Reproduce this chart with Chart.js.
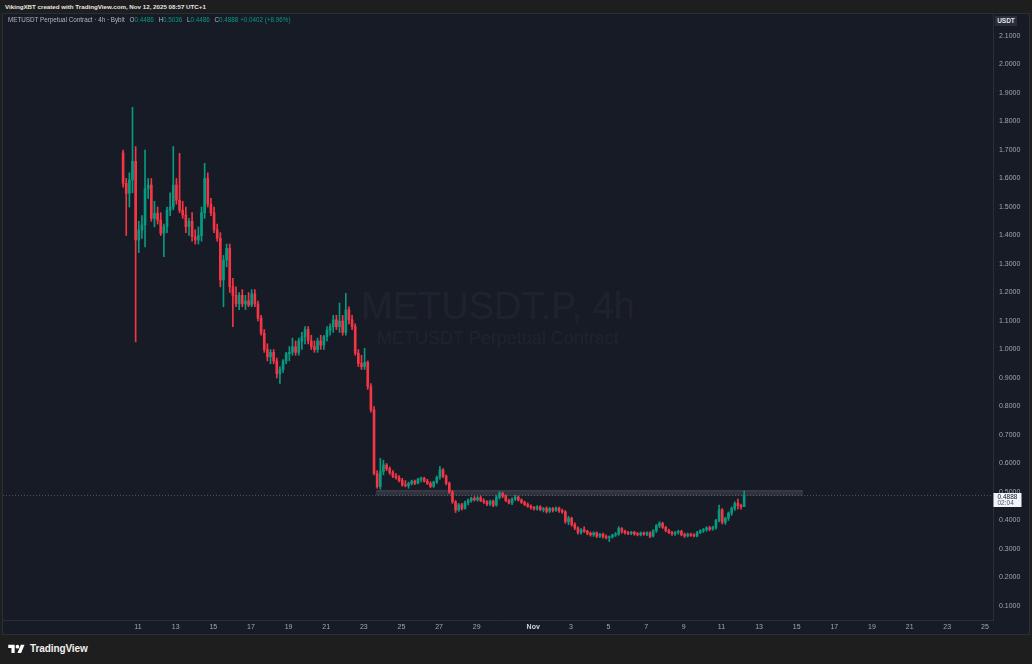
<!DOCTYPE html>
<html>
<head>
<meta charset="utf-8">
<script src="https://cdn.jsdelivr.net/npm/chart.js@4.4.1/dist/chart.umd.min.js"></script>
<style>
  html, body { margin: 0; padding: 0; }
  body { width: 1032px; height: 664px; background: #1e1e1e; position: relative; overflow: hidden;
         font-family: "Liberation Sans", Arial, sans-serif; }
  #header { position: absolute; left: 5px; top: 3px; font-size: 6.2px; font-weight: 700; color: #e6e6e6; white-space: nowrap; }
  #panel { position: absolute; left: 3px; top: 14px; width: 1026px; height: 620px; background: #171b26;
           box-shadow: 0 0 0 1px #2a2e39; }
  #chart { position: absolute; left: 0; top: 0; }
  .wm { position: absolute; left: 0; width: 990px; text-align: center; color: rgba(255,255,255,0.055); white-space: nowrap; }
  #wm1 { top: 270px; font-size: 38px; line-height: 44px; }
  #wm2 { top: 314px; font-size: 18px; line-height: 20px; }
  #legend { position: absolute; left: 5px; top: 2px; font-size: 6.3px; color: #b2b5be; white-space: nowrap; }
  #legend .v { color: #089981; }
  #legend .k { margin-left: 3px; }
  #usdt { position: absolute; left: 992px; top: 2px; width: 22px; height: 10px; background: #2a2e39; color: #e0e3eb;
          font-size: 6.5px; font-weight: 700; text-align: center; line-height: 10px; }
  #footer { position: absolute; left: 6px; top: 640px; height: 16px; display: flex; align-items: center; }
  #footer span { color: #f0f0f0; font-weight: 700; font-size: 10px; margin-left: 3px; letter-spacing: -0.1px; }
</style>
</head>
<body>
<div id="header">VikingXBT created with TradingView.com, Nov 12, 2025 08:57 UTC+1</div>
<div id="panel">
  <div class="wm" id="wm1">METUSDT.P, 4h</div>
  <div class="wm" id="wm2">METUSDT Perpetual Contract</div>
  <canvas id="chart" width="1026" height="620"></canvas>
  <div id="legend">METUSDT Perpetual Contract · 4h · Bybit
    <span class="k">O</span><span class="v">0.4486</span>
    <span class="k">H</span><span class="v">0.5036</span>
    <span class="k">L</span><span class="v">0.4486</span>
    <span class="k">C</span><span class="v">0.4888</span>
    <span class="v">+0.0402 (+8.96%)</span></div>
  <div id="usdt">USDT</div>
</div>
<div id="footer">
  <svg width="21" height="11" viewBox="0 0 36 24"><path d="M14 22H7V11H0V4h14v18z" fill="#fff"/><circle cx="20" cy="8" r="4" fill="#fff"/><path d="M28 22h-8l7.5-18h8L28 22z" fill="#fff"/></svg>
  <span>TradingView</span>
</div>
<script>
// 4h candles, first bar Oct 10 05:00; x values are days counted from Oct 1 00:00
const firstBarDay = 9 + 5 / 24;
const barStep = 1 / 6;

const opens = [
  1.69, 1.583, 1.548, 1.595, 1.66, 1.384, 1.419, 1.437, 1.565, 1.577,
  1.46, 1.478, 1.454, 1.408, 1.431, 1.489, 1.50, 1.577, 1.524, 1.489,
  1.472, 1.431, 1.45, 1.396, 1.384, 1.40, 1.48, 1.60, 1.51, 1.48,
  1.42, 1.39, 1.244, 1.314, 1.355, 1.22, 1.19, 1.16, 1.19, 1.16,
  1.17, 1.156, 1.195, 1.16, 1.11, 1.057, 1.0, 0.975, 0.99, 0.96,
  0.915, 0.93, 0.96, 0.985, 0.99, 1.01, 0.99, 1.03, 1.045, 1.07,
  1.03, 1.01, 1.0, 1.03, 1.015, 1.045, 1.068, 1.08, 1.104, 1.08,
  1.10, 1.06, 1.139, 1.104, 1.08, 0.987, 0.951, 0.94, 0.955, 0.87,
  0.788, 0.565, 0.519, 0.572, 0.595, 0.582, 0.568, 0.556, 0.55, 0.54,
  0.525, 0.522, 0.53, 0.538, 0.531, 0.545, 0.548, 0.538, 0.53, 0.52,
  0.535, 0.552, 0.578, 0.556, 0.53, 0.50, 0.465, 0.437, 0.455, 0.442,
  0.462, 0.47, 0.478, 0.473, 0.48, 0.47, 0.465, 0.458, 0.468, 0.454,
  0.482, 0.495, 0.486, 0.47, 0.462, 0.475, 0.482, 0.472, 0.464, 0.457,
  0.45, 0.446, 0.441, 0.448, 0.438, 0.442, 0.432, 0.442, 0.436, 0.443,
  0.434, 0.43, 0.396, 0.408, 0.386, 0.374, 0.358, 0.368, 0.362, 0.355,
  0.35, 0.357, 0.345, 0.352, 0.344, 0.34, 0.343, 0.349, 0.352, 0.372,
  0.362, 0.357, 0.354, 0.359, 0.353, 0.35, 0.356, 0.352, 0.357, 0.345,
  0.364, 0.382, 0.39, 0.376, 0.365, 0.358, 0.353, 0.358, 0.362, 0.35,
  0.346, 0.352, 0.348, 0.346, 0.358, 0.364, 0.368, 0.374, 0.37, 0.376,
  0.40, 0.437, 0.394, 0.408, 0.426, 0.442, 0.46, 0.452, 0.4486
];
const highs = [
  1.70, 1.60, 1.62, 1.85, 1.712, 1.45, 1.47, 1.70, 1.60, 1.60,
  1.52, 1.50, 1.48, 1.44, 1.50, 1.55, 1.712, 1.60, 1.688, 1.52,
  1.50, 1.46, 1.48, 1.42, 1.43, 1.50, 1.653, 1.62, 1.53, 1.50,
  1.44, 1.41, 1.33, 1.37, 1.37, 1.25, 1.22, 1.20, 1.21, 1.19,
  1.20, 1.21, 1.21, 1.17, 1.12, 1.07, 1.02, 1.0, 1.0, 0.97,
  0.94, 0.965, 0.99, 1.01, 1.04, 1.03, 1.04, 1.06, 1.08, 1.08,
  1.05, 1.03, 1.04, 1.05, 1.05, 1.08, 1.09, 1.12, 1.12, 1.163,
  1.12, 1.197, 1.15, 1.12, 1.09, 1.0, 0.98, 1.004, 0.96, 0.88,
  0.80, 0.575, 0.618, 0.612, 0.60, 0.588, 0.575, 0.565, 0.558, 0.548,
  0.54, 0.535, 0.542, 0.542, 0.548, 0.552, 0.552, 0.545, 0.536, 0.538,
  0.556, 0.59, 0.582, 0.56, 0.535, 0.505, 0.47, 0.46, 0.46, 0.468,
  0.475, 0.482, 0.484, 0.484, 0.486, 0.476, 0.47, 0.472, 0.472, 0.488,
  0.502, 0.50, 0.49, 0.475, 0.48, 0.488, 0.486, 0.476, 0.468, 0.462,
  0.455, 0.45, 0.452, 0.452, 0.446, 0.448, 0.446, 0.446, 0.448, 0.447,
  0.44, 0.435, 0.415, 0.412, 0.392, 0.378, 0.372, 0.378, 0.366, 0.36,
  0.36, 0.36, 0.355, 0.356, 0.35, 0.346, 0.352, 0.358, 0.378, 0.375,
  0.366, 0.362, 0.362, 0.362, 0.358, 0.36, 0.36, 0.36, 0.36, 0.368,
  0.386, 0.396, 0.394, 0.38, 0.37, 0.362, 0.362, 0.366, 0.366, 0.356,
  0.356, 0.356, 0.354, 0.362, 0.368, 0.372, 0.378, 0.38, 0.38, 0.404,
  0.454, 0.442, 0.412, 0.43, 0.448, 0.466, 0.475, 0.458, 0.5036
];
const lows = [
  1.57, 1.40, 1.50, 1.55, 1.027, 1.34, 1.39, 1.36, 1.53, 1.45,
  1.43, 1.44, 1.40, 1.326, 1.41, 1.47, 1.49, 1.51, 1.48, 1.46,
  1.41, 1.40, 1.38, 1.37, 1.37, 1.38, 1.46, 1.50, 1.47, 1.41,
  1.38, 1.22, 1.15, 1.29, 1.20, 1.08, 1.15, 1.14, 1.15, 1.14,
  1.15, 1.15, 1.15, 1.10, 1.05, 0.99, 0.96, 0.95, 0.95, 0.90,
  0.881, 0.92, 0.95, 0.96, 0.98, 0.98, 0.98, 1.0, 1.02, 1.02,
  1.0, 0.99, 0.99, 1.0, 1.0, 1.03, 1.05, 1.06, 1.07, 1.06,
  1.05, 1.05, 1.09, 1.07, 0.98, 0.94, 0.93, 0.93, 0.86, 0.78,
  0.56, 0.513, 0.51, 0.56, 0.575, 0.562, 0.55, 0.545, 0.535, 0.52,
  0.518, 0.513, 0.525, 0.526, 0.528, 0.535, 0.535, 0.526, 0.515, 0.516,
  0.53, 0.545, 0.55, 0.525, 0.495, 0.46, 0.428, 0.432, 0.436, 0.44,
  0.455, 0.464, 0.468, 0.468, 0.466, 0.46, 0.452, 0.452, 0.448, 0.45,
  0.475, 0.48, 0.466, 0.458, 0.456, 0.47, 0.468, 0.46, 0.452, 0.446,
  0.44, 0.436, 0.436, 0.434, 0.43, 0.426, 0.428, 0.43, 0.432, 0.428,
  0.425, 0.39, 0.385, 0.38, 0.368, 0.352, 0.352, 0.358, 0.35, 0.345,
  0.344, 0.34, 0.34, 0.338, 0.335, 0.326, 0.338, 0.344, 0.348, 0.356,
  0.352, 0.35, 0.35, 0.348, 0.346, 0.346, 0.348, 0.347, 0.34, 0.342,
  0.358, 0.375, 0.372, 0.36, 0.354, 0.348, 0.348, 0.352, 0.346, 0.34,
  0.342, 0.344, 0.342, 0.342, 0.354, 0.358, 0.362, 0.364, 0.366, 0.37,
  0.395, 0.388, 0.386, 0.40, 0.418, 0.435, 0.44, 0.44, 0.4486
];
const closes = [
  1.583, 1.548, 1.595, 1.66, 1.384, 1.419, 1.437, 1.565, 1.577, 1.46,
  1.478, 1.454, 1.408, 1.431, 1.489, 1.50, 1.577, 1.524, 1.489, 1.472,
  1.431, 1.45, 1.396, 1.384, 1.40, 1.48, 1.60, 1.51, 1.48, 1.42,
  1.39, 1.244, 1.314, 1.355, 1.22, 1.19, 1.16, 1.19, 1.16, 1.17,
  1.156, 1.195, 1.16, 1.11, 1.057, 1.0, 0.975, 0.99, 0.96, 0.915,
  0.93, 0.96, 0.985, 0.99, 1.01, 0.99, 1.03, 1.045, 1.07, 1.03,
  1.01, 1.0, 1.03, 1.015, 1.045, 1.068, 1.08, 1.104, 1.08, 1.10,
  1.06, 1.139, 1.104, 1.08, 0.987, 0.951, 0.94, 0.955, 0.87, 0.788,
  0.565, 0.519, 0.572, 0.595, 0.582, 0.568, 0.556, 0.55, 0.54, 0.525,
  0.522, 0.53, 0.538, 0.531, 0.545, 0.548, 0.538, 0.53, 0.52, 0.535,
  0.552, 0.578, 0.556, 0.53, 0.50, 0.465, 0.437, 0.455, 0.442, 0.462,
  0.47, 0.478, 0.473, 0.48, 0.47, 0.465, 0.458, 0.468, 0.454, 0.482,
  0.495, 0.486, 0.47, 0.462, 0.475, 0.482, 0.472, 0.464, 0.457, 0.45,
  0.446, 0.441, 0.448, 0.438, 0.442, 0.432, 0.442, 0.436, 0.443, 0.434,
  0.43, 0.396, 0.408, 0.386, 0.374, 0.358, 0.368, 0.362, 0.355, 0.35,
  0.357, 0.345, 0.352, 0.344, 0.34, 0.343, 0.349, 0.352, 0.372, 0.362,
  0.357, 0.354, 0.359, 0.353, 0.35, 0.356, 0.352, 0.357, 0.345, 0.364,
  0.382, 0.39, 0.376, 0.365, 0.358, 0.353, 0.358, 0.362, 0.35, 0.346,
  0.352, 0.348, 0.346, 0.358, 0.364, 0.368, 0.374, 0.37, 0.376, 0.40,
  0.437, 0.394, 0.408, 0.426, 0.442, 0.46, 0.452, 0.4486, 0.4888
];

// axis ticks
const xTickDays = [10, 12, 14, 16, 18, 20, 22, 24, 26, 28, 31, 33, 35, 37, 39, 41, 43, 45, 47, 49, 51, 53, 55];
const xTickLabels = ['11', '13', '15', '17', '19', '21', '23', '25', '27', '29', 'Nov', '3', '5', '7', '9', '11', '13', '15', '17', '19', '21', '23', '25'];
const yTicks = [0.1, 0.2, 0.3, 0.4, 0.5, 0.6, 0.7, 0.8, 0.9, 1.0, 1.1, 1.2, 1.3, 1.4, 1.5, 1.6, 1.7, 1.8, 1.9, 2.0, 2.1];

// the drawn grey zone (from / to day, low / high price) and the live price
const zoneDays = [22.65, 45.33];
const zonePrices = [0.487, 0.506];
const lastPrice = 0.4888;
const countdown = '02:04';

const UP = '#089981';
const DOWN = '#f23645';
const candleColors = closes.map((c, i) => c >= opens[i] ? UP : DOWN);
const barX = closes.map((c, i) => firstBarDay + i * barStep);

// no label padding around the plot, so the scales fill the panel exactly
function noPadding(s) {
  s.paddingTop = 0;
  s.paddingBottom = 0;
  s.paddingLeft = 0;
  s.paddingRight = 0;
}

const overlayPlugin = {
  id: 'overlay',
  beforeDatasetsDraw(chart) {
    const { ctx, chartArea, scales: { x, y } } = chart;
    const x0 = x.getPixelForValue(zoneDays[0]);
    const x1 = x.getPixelForValue(zoneDays[1]);
    const y0 = y.getPixelForValue(zonePrices[1]);
    const y1 = y.getPixelForValue(zonePrices[0]);
    ctx.save();
    ctx.fillStyle = 'rgba(178,181,190,0.16)';
    ctx.fillRect(x0, y0, x1 - x0, y1 - y0);
    ctx.fillStyle = 'rgba(178,181,190,0.18)';
    ctx.fillRect(x0, y0, x1 - x0, 1);

    // last price line
    const py = Math.round(y.getPixelForValue(lastPrice)) + 0.5;
    ctx.strokeStyle = 'rgba(178,181,190,0.35)';
    ctx.lineWidth = 1;
    ctx.setLineDash([1, 2]);
    ctx.beginPath();
    ctx.moveTo(chartArea.left, py);
    ctx.lineTo(chartArea.right, py);
    ctx.stroke();
    ctx.restore();
  },
  afterDraw(chart) {
    const { ctx, chartArea, scales: { y } } = chart;
    const py = y.getPixelForValue(lastPrice);
    const bx = chartArea.right + 0.5;
    const by = Math.round(py) - 2;
    ctx.save();
    ctx.fillStyle = '#f0f3fa';
    ctx.fillRect(bx, by, 28, 14);
    ctx.font = '6.5px "Liberation Sans", Arial, sans-serif';
    ctx.textBaseline = 'middle';
    ctx.textAlign = 'left';
    ctx.fillStyle = '#131722';
    ctx.fillText(lastPrice.toFixed(4), bx + 4, by + 4);
    ctx.fillStyle = '#50535e';
    ctx.fillText(countdown, bx + 4, by + 10.5);
    ctx.restore();
  }
};

const ctx = document.getElementById('chart').getContext('2d');
new Chart(ctx, {
  type: 'bar',
  data: {
    datasets: [
      {
        label: 'body',
        data: barX.map((x, i) => ({ x: x, y: [opens[i], closes[i]] })),
        backgroundColor: candleColors,
        barThickness: 2,
        minBarLength: 1,
        grouped: false,
        borderWidth: 0
      },
      {
        label: 'wick',
        data: barX.map((x, i) => ({ x: x, y: [lows[i], highs[i]] })),
        backgroundColor: candleColors,
        barThickness: 1,
        grouped: false,
        borderWidth: 0
      }
    ]
  },
  options: {
    responsive: false,
    animation: false,
    events: [],
    layout: { padding: 0 },
    plugins: { legend: { display: false }, tooltip: { enabled: false } },
    scales: {
      x: {
        type: 'linear',
        min: 2.827,
        max: 55.43,
        offset: false,
        grid: { display: false, drawTicks: false },
        border: { display: true, color: '#2a2e39' },
        ticks: {
          autoSkip: false,
          maxRotation: 0,
          padding: 3,
          color: ctx => ctx.tick && ctx.tick.label === 'Nov' ? '#d1d4dc' : '#a3a6af',
          font: ctx => ({ family: '"Liberation Sans", Arial, sans-serif', size: 7, weight: ctx.tick && ctx.tick.label === 'Nov' ? 'bold' : 'normal' }),
          callback: (v, i) => xTickLabels[i]
        },
        afterBuildTicks: s => { s.ticks = xTickDays.map(v => ({ value: v })); },
        afterFit: s => { s.height = 14; noPadding(s); }
      },
      y: {
        position: 'right',
        min: 0.0509,
        max: 2.1772,
        grid: { display: false, drawTicks: false },
        border: { display: true, color: '#2a2e39' },
        ticks: {
          padding: 6,
          color: '#a3a6af',
          font: { family: '"Liberation Sans", Arial, sans-serif', size: 7 },
          callback: v => v.toFixed(4)
        },
        afterBuildTicks: s => { s.ticks = yTicks.map(v => ({ value: v })); },
        afterFit: s => { s.width = 36; noPadding(s); }
      }
    }
  },
  plugins: [overlayPlugin]
});
</script>
</body>
</html>
